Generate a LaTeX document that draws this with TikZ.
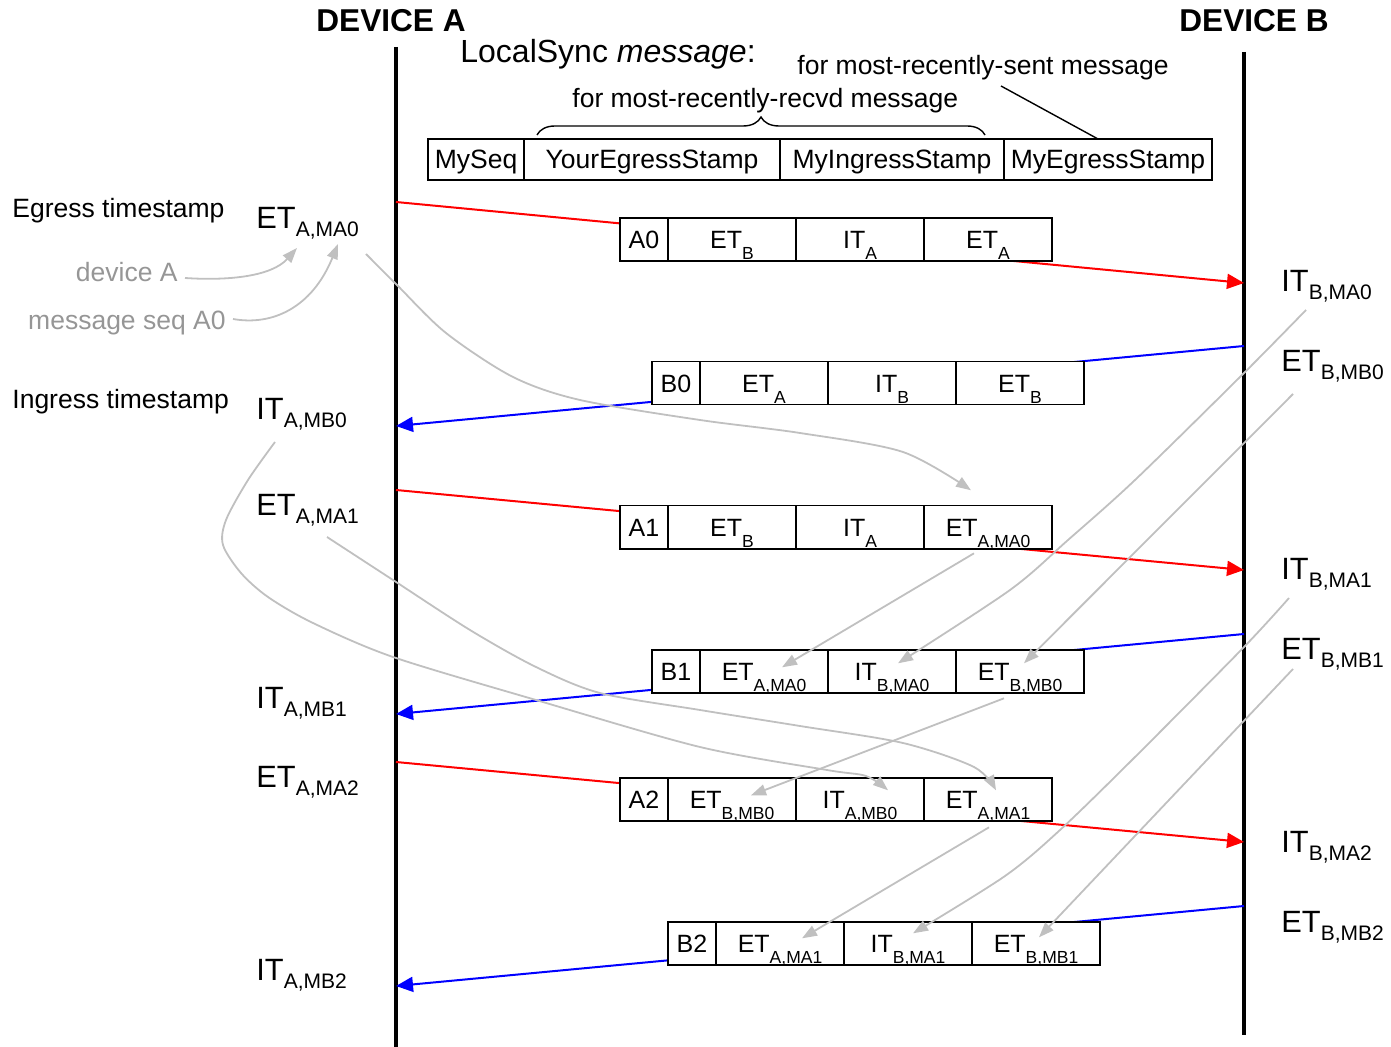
\documentclass[tikz,border=0pt]{standalone}
\usepackage{fontspec}
\setmainfont{Liberation Sans}
\usetikzlibrary{arrows.meta,decorations.pathreplacing}
\definecolor{gtext}{RGB}{150,150,150}
\definecolor{glines}{RGB}{192,192,192}
\newcommand\fsz[1]{\fontsize{#1}{#1}\selectfont}
\newcommand\bsub[1]{\raisebox{-5.5pt}{\fsz{8.75}#1}}
\newcommand\lsub[1]{\raisebox{-4pt}{\fsz{10.5}#1}}
\newcommand\msgrow[7]{%
  \node[cell,minimum width=24pt] (#1-1) at (#2,#3) {#4};
  \node[cell,minimum width=64pt] (#1-2) at (#1-1.east) {#5};
  \node[cell,minimum width=64pt] (#1-3) at (#1-2.east) {#6};
  \node[cell,minimum width=64pt] (#1-4) at (#1-3.east) {#7};}
\begin{document}
\begin{tikzpicture}[x=0.5pt,y=-0.5pt,
  life/.style={line width=1.75pt},
  cell/.style={draw,fill=white,line width=0.7pt,inner sep=0pt,outer sep=0pt,
    minimum height=21.5pt,text height=9.5pt,text depth=0pt,anchor=west,font={\fsz{12.5}}},
  hcell/.style={cell,minimum height=20.5pt,text height=9.5pt,font={\fsz{13.25}}},
  txt/.style={inner sep=0pt,anchor=base west,font={\fsz{13.25}}},
  gtxt/.style={txt,text=gtext},
  lbl/.style={inner sep=0pt,anchor=base west,font={\fsz{15.4}}},
  titlelbl/.style={inner sep=0pt,anchor=base,font={\fsz{15.8}\bfseries}},
  redmsg/.style={draw=red,line width=1pt,-{Triangle[length=8.5pt,width=7.5pt]}},
  bluemsg/.style={draw=blue,line width=1pt,-{Triangle[length=8.5pt,width=7.5pt]}},
  glink/.style={draw=glines,line width=0.9pt,-{Triangle[length=7.5pt,width=5.5pt]}},
]
\useasboundingbox (0,0) rectangle (1391,1047);

% titles
\node[titlelbl] (tA) at (391,32) {DEVICE A};
\node[titlelbl] (tB) at (1254,32) {DEVICE B};

% lifelines
\coordinate (At) at (396,47); \coordinate (Ab) at (396,1047);
\coordinate (Bt) at (1244,52); \coordinate (Bb) at (1244,1035);
\draw[life] (At) -- (Ab);
\draw[life] (Bt) -- (Bb);

% header
\node[txt,font={\fsz{16}}] (ls) at (460,63) {LocalSync \textit{message}:};
\node[txt] (sent) at (797,75) {for most-recently-sent message};
\node[txt] (recvd) at (572,108) {for most-recently-recvd message};
\node[hcell,minimum width=48pt] (h1) at (428,159.5) {MySeq};
\node[hcell,minimum width=128pt] (h2) at (h1.east) {YourEgressStamp};
\node[hcell,minimum width=112pt] (h3) at (h2.east) {MyIngressStamp};
\node[hcell,minimum width=104pt] (h4) at (h3.east) {MyEgressStamp};
\draw[decorate,decoration={brace,amplitude=9pt},line width=0.7pt]
  ([shift={(13,-4)}]h2.north west) -- ([shift={(-19,-4)}]h3.north east);
\draw[line width=0.7pt] ([shift={(204,11)}]sent.base west) -- ([xshift=-5pt]h4.north);

% left texts
\node[txt] (egress) at (12,218) {Egress timestamp};
\node[txt] (ingress) at (12,409) {Ingress timestamp};
\node[gtxt,anchor=base east] (gdev) at (178,282) {device A};
\node[gtxt,anchor=base east] (gseq) at (226,330) {message seq A0};

% left labels
\node[lbl] (lA0) at (256,229) {ET\lsub{A,MA0}};
\node[lbl] (lB0) at (256,420) {IT\lsub{A,MB0}};
\node[lbl] (lA1) at (256,516) {ET\lsub{A,MA1}};
\node[lbl] (lB1) at (256,708) {IT\lsub{A,MB1}};
\node[lbl] (lA2) at (256,787) {ET\lsub{A,MA2}};
\node[lbl] (lB2) at (256,980) {IT\lsub{A,MB2}};
% right labels
\node[lbl] (rA0) at (1281,292) {IT\lsub{B,MA0}};
\node[lbl] (rB0) at (1281,372) {ET\lsub{B,MB0}};
\node[lbl] (rA1) at (1281,579) {IT\lsub{B,MA1}};
\node[lbl] (rB1) at (1281,659) {ET\lsub{B,MB1}};
\node[lbl] (rA2) at (1281,852) {IT\lsub{B,MA2}};
\node[lbl] (rB2) at (1281,932) {ET\lsub{B,MB2}};

% message endpoints on lifelines
\coordinate (sA0) at (396,202);  \coordinate (eA0) at (1244,283);
\coordinate (sB0) at (1244,346); \coordinate (eB0) at (396,426);
\coordinate (sA1) at (396,490);  \coordinate (eA1) at (1244,570);
\coordinate (sB1) at (1244,634); \coordinate (eB1) at (396,714);
\coordinate (sA2) at (396,762);  \coordinate (eA2) at (1244,842);
\coordinate (sB2) at (1244,906); \coordinate (eB2) at (396,986);
\draw[redmsg] (sA0) -- (eA0);
\draw[bluemsg] (sB0) -- (eB0);
\draw[redmsg] (sA1) -- (eA1);
\draw[bluemsg] (sB1) -- (eB1);
\draw[redmsg] (sA2) -- (eA2);
\draw[bluemsg] (sB2) -- (eB2);

% message boxes
\msgrow{a0}{620}{239.5}{A0}{ET\bsub{B}}{IT\bsub{A}}{ET\bsub{A}}
\msgrow{b0}{652}{383.3}{B0}{ET\bsub{A}}{IT\bsub{B}}{ET\bsub{B}}
\msgrow{a1}{620}{527.3}{A1}{ET\bsub{B}}{IT\bsub{A}}{ET\bsub{A,MA0}}
\msgrow{b1}{652}{671.3}{B1}{ET\bsub{A,MA0}}{IT\bsub{B,MA0}}{ET\bsub{B,MB0}}
\msgrow{a2}{620}{799.3}{A2}{ET\bsub{B,MB0}}{IT\bsub{A,MB0}}{ET\bsub{A,MA1}}
\msgrow{b2}{668}{943.3}{B2}{ET\bsub{A,MA1}}{IT\bsub{B,MA1}}{ET\bsub{B,MB1}}

% gray annotation arrows
\draw[glink] ([shift={(7,-4)}]gdev.base east) .. controls (230,281) and (272,276) .. ([shift={(41,19)}]lA0.base west);
\draw[glink] ([shift={(7,-11)}]gseq.base east) .. controls (272,326) and (312,308) .. ([shift={(82,15)}]lA0.base west);
\draw[glink] plot[smooth] coordinates {([shift={(110,25)}]lA0.base west) (397,285) (446,333) (513,377) (580,400) (700,420) (800,433) (903,452) ([shift={(-17,-37)}]a1-4.center)};
\draw[glink] plot[smooth] coordinates {([shift={(19,22)}]lB0.base west) (248,480) (226,520) (223,545) (241,573) (268,597) (313,623) (393,657) (536,700) (700,747) (827,770) (866,776) ([shift={(28,-9)}]a2-3.center)};
\draw[glink] plot[smooth] coordinates {([shift={(71,21)}]lA1.base west) (393,580) (470,630) (536,667) (600,693) (700,710) (800,726) (903,743) (974,767) ([shift={(8,-9)}]a2-4.center)};
\draw[glink] ([shift={(-14,26)}]a1-4.center) -- ([shift={(18,-4)}]b1-2.center);
\draw[glink] plot[smooth] coordinates {([shift={(25,18)}]rA0.base west) (1244,373) (1135,480) (1068,540) (1010,590) ([shift={(6,-8)}]b1-3.center)};
\draw[glink] ([shift={(12,22)}]rB0.base west) -- ([shift={(4,-8)}]b1-4.center);
\draw[glink] ([shift={(-16,27)}]b1-4.center) -- ([shift={(19,-4)}]a2-2.center);
\draw[glink] ([shift={(1,28)}]a2-4.center) -- ([shift={(22,-5)}]b2-2.center);
\draw[glink] plot[smooth] coordinates {([shift={(8,19)}]rA1.base west) (1244,647) (1135,757) (1060,830) (1005,876) ([shift={(5,-10)}]b2-3.center)};
\draw[glink] ([shift={(12,10)}]rB1.base west) -- ([shift={(3,-6)}]b2-4.center);
\end{tikzpicture}
\end{document}
